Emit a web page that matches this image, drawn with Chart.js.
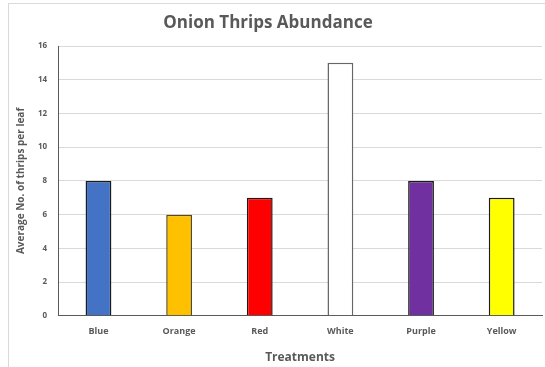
<!DOCTYPE html>
<html><head><meta charset="utf-8">
<script src="https://cdn.jsdelivr.net/npm/chart.js@4/dist/chart.umd.min.js"></script>
<style>html,body{margin:0;padding:0;background:#fff}#wrap{width:545px;height:367px}</style>
</head><body><div id="wrap"><canvas id="c" width="545" height="367"></canvas></div>
<script>
const categories = ["Blue","Orange","Red","White","Purple","Yellow"];
const thripsPerLeaf = [8, 6, 7, 15, 8, 7];
const yTicks = [0,2,4,6,8,10,12,14,16];
const chartTitle = 'Onion Thrips Abundance';
const barColors = ["#4472c4","#ffc000","#ff0000","#ffffff","#7030a0","#ffff00"];
const barBorders = ["#1a1a1a","#5c4a10","#1a1a1a","#666666","#1a1a1a","#1a1a1a"];

const frame = {
  id: 'frame',
  beforeDraw(chart){
    const ctx = chart.ctx;
    ctx.save();
    ctx.fillStyle = '#fff';
    ctx.fillRect(0,0,chart.width,chart.height);
    ctx.strokeStyle = '#d9d9d9';
    ctx.lineWidth = 1;
    ctx.strokeRect(8.5, 3.5, 700, 500);
    ctx.restore();
  },
  afterDraw(chart){
    const ctx = chart.ctx;
    ctx.save();
    ctx.fillStyle = '#595959';
    ctx.font = 'bold 17px "Open Sans"';
    ctx.textAlign = 'center';
    ctx.textBaseline = 'middle';
    ctx.fillText(chartTitle, 268, 23);
    ctx.restore();
  }
};

new Chart(document.getElementById('c'), {
  type: 'bar',
  data: {
    labels: categories,
    datasets: [{
      data: thripsPerLeaf,
      backgroundColor: barColors,
      borderColor: barBorders,
      borderWidth: 1.5,
      categoryPercentage: 1,
      barPercentage: 0.32
    }]
  },
  options: {
    responsive: false,
    animation: false,
    layout: { padding: { left: 15, right: 3, top: 46, bottom: 0 } },
    plugins: {
      legend: { display: false },
      tooltip: { enabled: false },
      title: { display: false }
    },
    scales: {
      x: {
        grid: { display: false, drawTicks: false },
        border: { color: '#595959', width: 1 },
        ticks: { color: '#595959', font: { family: 'Open Sans', size: 9, weight: 'bold' }, padding: 10 },
        title: { display: true, text: 'Treatments', color: '#595959', font: { family: 'Open Sans', size: 12, weight: 'bold' }, padding: { top: 4, bottom: 2 } }
      },
      y: {
        min: 0, max: 16,
        afterBuildTicks(axis){ axis.ticks = yTicks.map(v => ({ value: v })); },
        grid: { color: '#d9d9d9', lineWidth: 1, drawTicks: false },
        border: { color: '#595959', width: 1 },
        ticks: { color: '#595959', font: { family: 'Open Sans', size: 8, weight: 'bold' }, padding: 11 },
        title: { display: true, text: 'Average No. of thrips per leaf', color: '#595959', font: { family: 'Open Sans', size: 10, weight: 'bold' }, padding: { top: 0, bottom: 0 } }
      }
    }
  },
  plugins: [frame]
});
</script></body></html>
